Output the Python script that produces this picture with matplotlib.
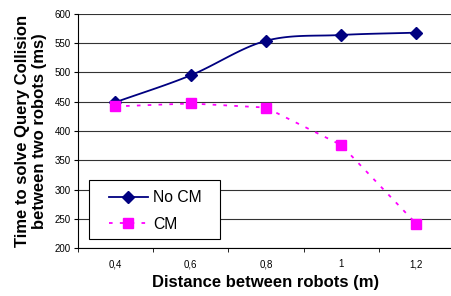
import numpy as np
import matplotlib
matplotlib.use("Agg")
import matplotlib.pyplot as plt
from matplotlib.patches import Rectangle

plt.rcParams['font.family'] = ['Liberation Sans', 'DejaVu Sans']

distances = ["0,4", "0,6", "0,8", "1", "1,2"]
no_cm = [449, 495, 554, 564, 568]
cm = [442, 447, 440, 376, 241]


def smooth(y, n=30):
    # Catmull-Rom curve through the points, like the spreadsheet "smoothed line"
    x = np.arange(len(y), dtype=float)
    p = np.column_stack([x, np.asarray(y, dtype=float)])
    p = np.vstack([p[0] - (p[1] - p[0]), p, p[-1] + (p[-1] - p[-2])])
    out = []
    for i in range(1, len(p) - 2):
        p0, p1, p2, p3 = p[i - 1], p[i], p[i + 1], p[i + 2]
        t = np.linspace(0, 1, n)[:, None]
        seg = 0.5 * ((2 * p1) + (-p0 + p2) * t
                     + (2 * p0 - 5 * p1 + 4 * p2 - p3) * t ** 2
                     + (-p0 + 3 * p1 - 3 * p2 + p3) * t ** 3)
        out.append(seg)
    out = np.vstack(out)
    return out[:, 0], out[:, 1]


fig = plt.figure(figsize=(4.51, 2.96), dpi=100)
ax = fig.add_axes([0.172, 0.162, 0.835, 0.791])

xpos = np.arange(len(distances))
dots = (0, (2, 4))

sx, sy = smooth(no_cm)
ax.plot(sx, sy, color="#000080", lw=1.3, zorder=3)
ax.plot(xpos, no_cm, ls="none", marker="D", ms=6, color="#000080", zorder=4)
ax.plot(xpos, cm, color="#ff00ff", lw=1.3, ls=dots, zorder=3)
ax.plot(xpos, cm, ls="none", marker="s", ms=6.5, color="#ff00ff", zorder=4)

# legend proxies
ax.plot([], [], color="#000080", lw=1.3, marker="D", ms=6, label="No CM")
ax.plot([], [], color="#ff00ff", lw=1.3, ls=dots, marker="s", ms=6.5, label="CM")

ax.set_xlim(-0.5, 4.5)
ax.set_ylim(200, 600)
ax.set_yticks(np.arange(200, 601, 50))
ax.set_xticks(xpos)
ax.set_xticklabels(distances)
ax.set_xticks(np.arange(-0.5, 4.6, 1), minor=True)
ax.tick_params(axis="x", which="major", length=0, labelsize=7, pad=8)
ax.tick_params(axis="x", which="minor", length=3, direction="out", color="black")
ax.tick_params(axis="y", length=3, labelsize=7, pad=2)
ax.grid(axis="y", color="#333333", lw=0.8)
ax.set_axisbelow(True)

for s in ["top", "right"]:
    ax.spines[s].set_visible(False)
ax.spines["left"].set_color("black")
ax.spines["bottom"].set_color("black")

ax.set_xlabel("Distance between robots (m)", fontsize=12, fontweight="bold", labelpad=4)
ax.set_ylabel("Time to solve Query Collision\nbetween two robots (ms)", fontsize=12,
              fontweight="bold", labelpad=5)

# legend box drawn separately so the inner padding matches
box = Rectangle((0.030, 0.038), 0.348, 0.252, transform=ax.transAxes,
                facecolor="white", edgecolor="black", lw=0.8, zorder=5)
ax.add_patch(box)
leg = ax.legend(loc="center left", bbox_to_anchor=(0.083, 0.158), fontsize=11.3,
                frameon=False, handlelength=2.5, handletextpad=0.3,
                borderpad=0, borderaxespad=0, labelspacing=0.75)
leg.set_zorder(6)

fig.savefig("out.png", dpi=100)
